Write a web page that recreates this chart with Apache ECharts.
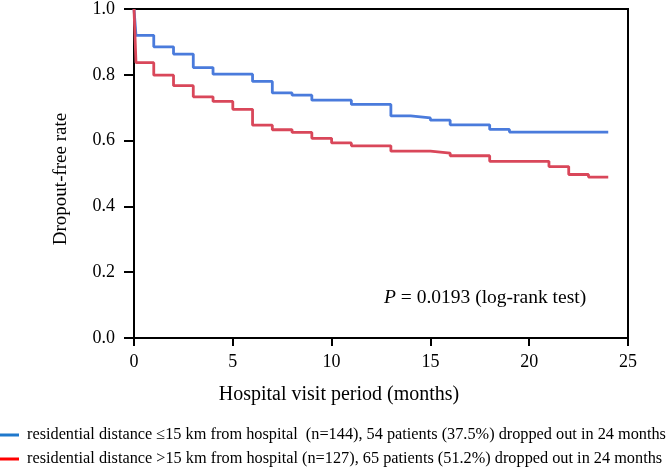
<!DOCTYPE html>
<html>
<head>
<meta charset="utf-8">
<script src="https://cdn.jsdelivr.net/npm/echarts@6/dist/echarts.min.js"></script>
<style>
html,body{margin:0;padding:0;background:#fff;}
#chart{width:669px;height:468px;}
</style>
</head>
<body>
<div id="chart"></div>
<script>
// Data
var blueTimes = [0, 0.1, 1, 2, 3, 4, 6, 7, 8, 9, 11, 13, 14, 15, 16, 18, 19, 24];
var blueRates = [1.0, 0.92, 0.885, 0.863, 0.822, 0.802, 0.78, 0.745, 0.738, 0.723, 0.71, 0.675, 0.669, 0.662, 0.648, 0.634, 0.626, 0.626];
var redTimes = [0, 0.1, 1, 2, 3, 4, 5, 6, 7, 8, 9, 10, 11, 13, 15, 16, 18, 21, 22, 23, 24];
var redRates = [1.0, 0.837, 0.799, 0.767, 0.733, 0.719, 0.695, 0.647, 0.633, 0.625, 0.607, 0.593, 0.584, 0.568, 0.562, 0.554, 0.537, 0.521, 0.497, 0.489, 0.489];
var blueName = 'residential distance \u226415 km from hospital  (n=144), 54 patients (37.5%) dropped out in 24 months';
var redName = 'residential distance >15 km from hospital (n=127), 65 patients (51.2%) dropped out in 24 months';
var xAxisTitle = 'Hospital visit period (months)';
var yAxisTitle = 'Dropout-free rate';
var pValueLabel = '0.0193 (log-rank test)';

function pairs(xs, ys) { return xs.map(function (x, i) { return [x, ys[i]]; }); }

var font = '"Liberation Serif", "Times New Roman", serif';
var legendBase = {
  orient: 'horizontal', left: 0, padding: 0,
  itemWidth: 19, itemHeight: 3, icon: 'rect',
  textStyle: { fontFamily: font, fontSize: 16.3, color: '#000', padding: [0, 0, 0, 3] }
};
var chart = echarts.init(document.getElementById('chart'));
chart.setOption({
  animation: false,
  textStyle: { fontFamily: font },
  grid: { left: 134, right: 41, top: 5, bottom: 130, show: true, borderColor: '#000', borderWidth: 2, backgroundColor: 'transparent' },
  xAxis: {
    type: 'value', min: 0, max: 25, interval: 5,
    axisLine: { show: true, lineStyle: { color: '#000', width: 2 } },
    axisTick: { show: true, inside: false, length: 8, lineStyle: { color: '#000', width: 2 } },
    axisLabel: { fontFamily: font, fontSize: 18, color: '#000', margin: 15 },
    splitLine: { show: false }
  },
  yAxis: {
    type: 'value', min: 0, max: 1, interval: 0.2,
    axisLine: { show: true, lineStyle: { color: '#000', width: 2 } },
    axisTick: { show: true, inside: false, length: 10, lineStyle: { color: '#000', width: 2 } },
    axisLabel: { fontFamily: font, fontSize: 18, color: '#000', margin: 19, formatter: function (v) { return v.toFixed(1); } },
    splitLine: { show: false }
  },
  legend: [
    Object.assign({}, legendBase, { top: 427, data: [{ name: blueName, itemStyle: { color: '#1f78cc' } }] }),
    Object.assign({}, legendBase, { top: 451, data: [{ name: redName, itemStyle: { color: '#ff0000' } }] })
  ],
  graphic: [{
    type: 'text', left: 384, top: 288,
    style: {
      text: '{i|P} = ' + pValueLabel,
      rich: { i: { fontStyle: 'italic', fontFamily: font, fontSize: 19.5, fill: '#000' } },
      font: '19.5px ' + font, fill: '#000'
    }
  }, {
    type: 'text', x: 61, y: 179, rotation: Math.PI / 2,
    style: {
      text: yAxisTitle, font: '19px ' + font, fill: '#000',
      align: 'center', verticalAlign: 'middle'
    }
  }, {
    type: 'text', x: 339, y: 395,
    style: {
      text: xAxisTitle, font: '20px ' + font, fill: '#000',
      align: 'center', verticalAlign: 'middle'
    }
  }],
  series: [
    { name: blueName, type: 'line', step: 'end', data: pairs(blueTimes, blueRates), showSymbol: false, lineStyle: { color: '#4a7bdc', width: 2.8 }, itemStyle: { color: '#4a7bdc' } },
    { name: redName, type: 'line', step: 'end', data: pairs(redTimes, redRates), showSymbol: false, lineStyle: { color: '#d9475a', width: 2.8 }, itemStyle: { color: '#d9475a' } }
  ]
});
</script>
</body>
</html>
